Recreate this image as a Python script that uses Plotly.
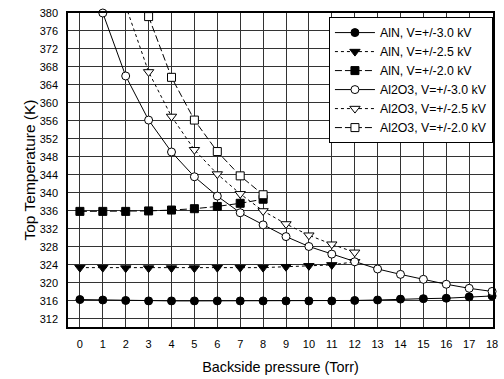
import plotly.graph_objects as go

# Data
p_all = list(range(0, 19))
aln_30 = [316.3, 316.2, 316.1, 316.0, 316.0, 316.0, 316.0, 316.0, 316.0, 316.0,
          316.0, 316.0, 316.1, 316.2, 316.4, 316.5, 316.6, 316.9, 317.1]
p_aln_25 = list(range(0, 13))
aln_25 = [323.4, 323.4, 323.3, 323.3, 323.3, 323.3, 323.4, 323.4, 323.4, 323.6,
          323.8, 324.0, 324.7]
p_aln_20 = list(range(0, 9))
aln_20 = [335.9, 335.9, 335.9, 336.0, 336.2, 336.5, 337.0, 337.7, 338.6]
p_al2o3_30 = list(range(1, 19))
al2o3_30 = [380.0, 366.0, 356.2, 349.1, 343.6, 339.3, 335.6, 332.9, 330.3, 328.1,
            326.4, 324.7, 323.1, 321.9, 320.8, 319.7, 318.8, 318.1]
p_al2o3_25 = list(range(2, 13))
al2o3_25 = [381.6, 366.9, 357.0, 349.6, 344.2, 339.8, 336.0, 333.1, 330.6, 328.6, 326.8]
p_al2o3_20 = list(range(3, 9))
al2o3_20 = [379.2, 365.7, 356.2, 349.2, 343.8, 339.6]

x_ticks = list(range(0, 19))
y_ticks = list(range(312, 381, 4))
y_major_ticks = [320, 340, 360, 380]

font = "Liberation Sans, Arial, sans-serif"

fig = go.Figure()

def add(x, y, name, dash, symbol, size, filled=True, clip=False):
    fig.add_trace(go.Scatter(
        x=x, y=y, name=name, mode="lines+markers",
        line=dict(color="black", width=1, dash=dash),
        marker=dict(symbol=symbol, size=size, color="black" if filled else "white",
                    line=dict(color="black", width=1)),
        cliponaxis=clip,
    ))

add(p_all, aln_30, "AlN, V=+/-3.0 kV", "solid", "circle", 8)
add(p_aln_25, aln_25, "AlN, V=+/-2.5 kV", "dot", "triangle-down", 9)
add(p_aln_20, aln_20, "AlN, V=+/-2.0 kV", "7px,3px", "square", 8)
add(p_al2o3_30, al2o3_30, "Al2O3, V=+/-3.0 kV", "solid", "circle", 8, filled=False)
add(p_al2o3_25, al2o3_25, "Al2O3, V=+/-2.5 kV", "dot", "triangle-down", 9, filled=False, clip=True)
add(p_al2o3_20, al2o3_20, "Al2O3, V=+/-2.0 kV", "7px,3px", "square", 8, filled=False)

fig.update_layout(
    width=504, height=379,
    margin=dict(l=68, r=6, t=13, b=51),
    paper_bgcolor="white", plot_bgcolor="white",
    font=dict(family=font, size=11, color="black"),
    showlegend=True,
    legend=dict(x=0.614, xanchor="left", y=0.987, yanchor="top",
                bgcolor="white", bordercolor="black", borderwidth=1,
                font=dict(size=12.3, family=font), itemwidth=40,
                tracegroupgap=0),
    xaxis=dict(range=[-0.52, 18.04], tickvals=x_ticks, ticktext=[str(v) for v in x_ticks],
               showgrid=True, gridcolor="#333", gridwidth=1,
               showline=True, linecolor="black", linewidth=1.5, mirror=True,
               ticks="", ticklabelstandoff=6, zeroline=False,
               title=dict(text="Backside pressure (Torr)", font=dict(size=14.4), standoff=13)),
    yaxis=dict(range=[310.2, 380], tickvals=y_ticks, ticktext=[str(v) for v in y_ticks],
               showgrid=True, gridcolor="#333", gridwidth=1,
               showline=True, linecolor="black", linewidth=1.5, mirror=True,
               ticks="", ticklabelstandoff=6, zeroline=False,
               title=dict(text="Top Temperature (K)", font=dict(size=15.5), standoff=0)),
    yaxis2=dict(range=[310.2, 380], overlaying="y", anchor="x", side="left",
                tickvals=y_major_ticks, ticks="outside", ticklen=5,
                tickcolor="black", showticklabels=False, showgrid=False,
                zeroline=False, showline=False),
)

fig.write_html("out.html")
